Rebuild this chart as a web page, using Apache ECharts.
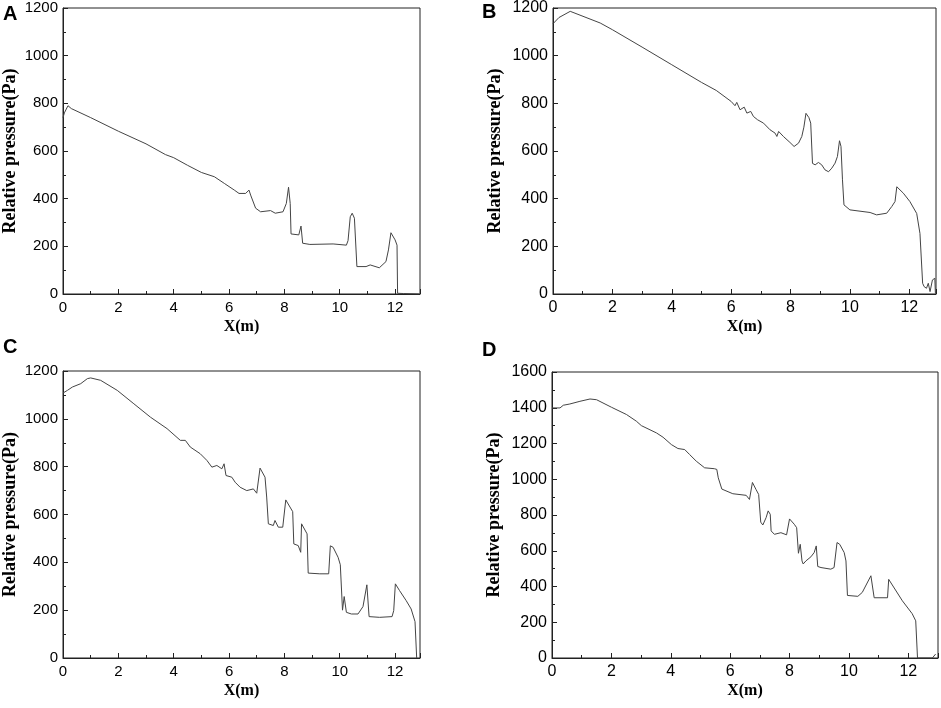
<!DOCTYPE html>
<html>
<head>
<meta charset="UTF-8">
<title>Relative pressure</title>
<script src="https://cdn.jsdelivr.net/npm/echarts@6/dist/echarts.min.js"></script>
</head>
<body style="margin:0;background:#fff;">
<div id="chart" style="width:941px;height:708px;"></div>
<script type="text/javascript">
    // panel A
    var xA = [0, 0.05, 0.18, 0.3, 1, 2, 3, 3.7, 4, 4.5, 5, 5.47, 5.83, 6.19, 6.36, 6.6, 6.72, 6.78, 6.96, 7.14, 7.5, 7.67, 7.95, 8.07, 8.15, 8.21, 8.24, 8.52, 8.6, 8.66, 8.92, 9.76, 10.24, 10.3, 10.38, 10.45, 10.53, 10.62, 10.95, 11.1, 11.43, 11.67, 11.76, 11.85, 12.0, 12.07, 12.09, 12.3, 12.86];
    var yA = [740, 760, 790, 778, 740, 683, 630, 585, 572, 540, 510, 492, 464, 436, 422, 422, 436, 415, 360, 345, 350, 339, 345, 380, 448, 380, 252, 248, 285, 213, 208, 210, 205, 224, 324, 339, 318, 115, 115, 122, 110, 136, 185, 257, 227, 205, 3, 2, 0];
    // panel B
    var xB = [0, 0.2, 0.58, 1.59, 2, 3, 4, 5, 5.5, 6, 6.13, 6.19, 6.3, 6.44, 6.53, 6.66, 6.75, 6.89, 7.09, 7.31, 7.48, 7.54, 7.6, 7.76, 7.98, 8.12, 8.27, 8.38, 8.45, 8.52, 8.62, 8.68, 8.74, 8.83, 8.94, 9.05, 9.16, 9.28, 9.39, 9.5, 9.58, 9.65, 9.7, 9.75, 9.8, 10.0, 10.68, 10.9, 11.24, 11.41, 11.52, 11.58, 11.8, 12.02, 12.25, 12.36, 12.45, 12.5, 12.58, 12.64, 12.7, 12.78, 12.86, 12.88];
    var yB = [1134, 1160, 1186, 1137, 1109, 1036, 962, 888, 854, 808, 790, 804, 773, 784, 759, 766, 745, 731, 717, 689, 675, 661, 682, 661, 636, 619, 633, 661, 700, 758, 740, 717, 548, 542, 552, 542, 521, 513, 528, 549, 577, 643, 619, 479, 374, 353, 342, 332, 339, 367, 388, 450, 423, 388, 338, 254, 45, 31, 24, 45, 10, 59, 66, 3];
    // panel C
    var xC = [0, 0.16, 0.34, 0.64, 0.88, 1.0, 1.36, 1.96, 2.56, 3.16, 3.76, 4.24, 4.42, 4.6, 4.96, 5.02, 5.2, 5.38, 5.56, 5.62, 5.74, 5.82, 5.89, 6.1, 6.22, 6.4, 6.64, 6.88, 7.0, 7.12, 7.3, 7.36, 7.42, 7.6, 7.66, 7.78, 7.94, 8.05, 8.3, 8.34, 8.5, 8.59, 8.62, 8.68, 8.82, 8.86, 9.28, 9.6, 9.66, 9.76, 9.94, 10.02, 10.1, 10.16, 10.24, 10.42, 10.66, 10.84, 10.98, 11.06, 11.44, 11.89, 11.95, 12.01, 12.16, 12.4, 12.58, 12.72, 12.78];
    var yC = [1108, 1119, 1133, 1147, 1168, 1171, 1161, 1119, 1063, 1007, 959, 910, 910, 882, 854, 861, 826, 798, 805, 812, 791, 812, 763, 756, 735, 714, 700, 707, 689, 794, 756, 673, 561, 554, 575, 547, 547, 661, 612, 477, 470, 442, 561, 564, 519, 355, 352, 352, 469, 463, 421, 390, 200, 257, 191, 184, 184, 215, 306, 173, 170, 173, 198, 310, 282, 240, 205, 152, 0];
    // panel D
    var xD = [0, 0.27, 0.38, 0.6, 0.94, 1.28, 1.5, 2.0, 2.51, 2.84, 3.01, 3.52, 3.74, 4.02, 4.24, 4.47, 4.63, 4.86, 5.14, 5.47, 5.55, 5.6, 5.72, 6.09, 6.54, 6.65, 6.75, 6.87, 6.96, 7.03, 7.1, 7.21, 7.28, 7.35, 7.38, 7.49, 7.71, 7.9, 8.0, 8.16, 8.24, 8.3, 8.36, 8.42, 8.46, 8.55, 8.72, 8.83, 8.9, 8.95, 9.06, 9.39, 9.5, 9.6, 9.69, 9.84, 9.9, 9.95, 10.3, 10.45, 10.74, 10.85, 11.3, 11.34, 11.8, 12.13, 12.25, 12.31, 12.81, 12.92];
    var yD = [1399, 1399, 1414, 1421, 1436, 1449, 1445, 1403, 1362, 1325, 1300, 1259, 1235, 1194, 1172, 1166, 1139, 1101, 1064, 1059, 1055, 1008, 945, 919, 910, 887, 982, 943, 915, 760, 744, 785, 823, 804, 711, 692, 701, 689, 778, 748, 729, 586, 636, 543, 526, 543, 566, 590, 627, 512, 506, 497, 506, 646, 636, 590, 543, 350, 345, 367, 460, 337, 337, 440, 320, 248, 208, 0, 0, 22];

    var panelLetters = ['A', 'B', 'C', 'D'];
    var yMaxes = [1200, 1200, 1200, 1600];
    var xMaxes = [12.9, 12.9, 12.9, 13];

    var chart = echarts.init(document.getElementById('chart'));

    function zip(xs, ys) {
        var out = [];
        for (var i = 0; i < xs.length; i++) {
            out.push([xs[i], ys[i]]);
        }
        return out;
    }

    var grids = [
        {left: 60, top: 8, width: 360, height: 286},
        {left: 553, top: 8, width: 383, height: 286},
        {left: 62, top: 371, width: 358, height: 287},
        {left: 552, top: 372, width: 386, height: 286}
    ];
    var labelSize = [15, 16, 15, 16];
    var yNameGap = [44, 49, 44, 49];
    var letterPos = [[3, 4], [482, 2], [3, 337], [482, 340]];

    var series = [zip(xA, yA), zip(xB, yB), zip(xC, yC), zip(xD, yD)];

    var option = {
        animation: false,
        backgroundColor: '#fff',
        title: [],
        grid: [],
        xAxis: [],
        yAxis: [],
        series: []
    };

    for (var i = 0; i < 4; i++) {
        option.title.push({
            text: panelLetters[i],
            left: letterPos[i][0],
            top: letterPos[i][1],
            padding: 0,
            textStyle: {fontFamily: 'Liberation Sans, Arial', fontWeight: 'bold', fontSize: 20, color: '#000'}
        });
        var g = grids[i];
        option.grid.push({
            left: g.left, top: g.top, width: g.width, height: g.height,
            show: true, borderColor: '#222', borderWidth: 1, backgroundColor: 'transparent'
        });
        var labelStyle = {fontFamily: 'Liberation Sans, Arial', fontSize: labelSize[i], color: '#000'};
        var xNameStyle = {fontFamily: 'Liberation Serif, Times New Roman', fontWeight: 'bold', fontSize: 16, color: '#000'};
        var yNameStyle = {fontFamily: 'Liberation Serif, Times New Roman', fontWeight: 'bold', fontSize: 18, color: '#000'};
        option.xAxis.push({
            type: 'value', gridIndex: i, min: 0, max: xMaxes[i], interval: 2,
            name: 'X(m)', nameLocation: 'middle', nameGap: 25, nameTextStyle: xNameStyle,
            axisLine: {show: true, lineStyle: {color: '#222', width: 1}},
            axisTick: {show: true, inside: true, length: 5, lineStyle: {color: '#222'}},
            minorTick: {show: true, splitNumber: 2, length: 3, lineStyle: {color: '#222'}},
            axisLabel: Object.assign({margin: 6, showMaxLabel: false, formatter: function (v) { return String(v); }}, labelStyle),
            splitLine: {show: false}
        });
        option.yAxis.push({
            type: 'value', gridIndex: i, min: 0, max: yMaxes[i], interval: 200,
            name: 'Relative pressure(Pa)', nameLocation: 'middle', nameGap: yNameGap[i], nameTextStyle: yNameStyle,
            axisLine: {show: true, lineStyle: {color: '#222', width: 1}},
            axisTick: {show: true, inside: true, length: 5, lineStyle: {color: '#222'}},
            minorTick: {show: true, splitNumber: 2, length: 3, lineStyle: {color: '#222'}},
            axisLabel: Object.assign({margin: 5, formatter: function (v) { return String(v); }}, labelStyle),
            splitLine: {show: false}
        });
        option.series.push({
            type: 'line', xAxisIndex: i, yAxisIndex: i,
            data: series[i], showSymbol: false, symbol: 'none',
            lineStyle: {color: '#444', width: 1}
        });
    }

    chart.setOption(option);
</script>
</body>
</html>
